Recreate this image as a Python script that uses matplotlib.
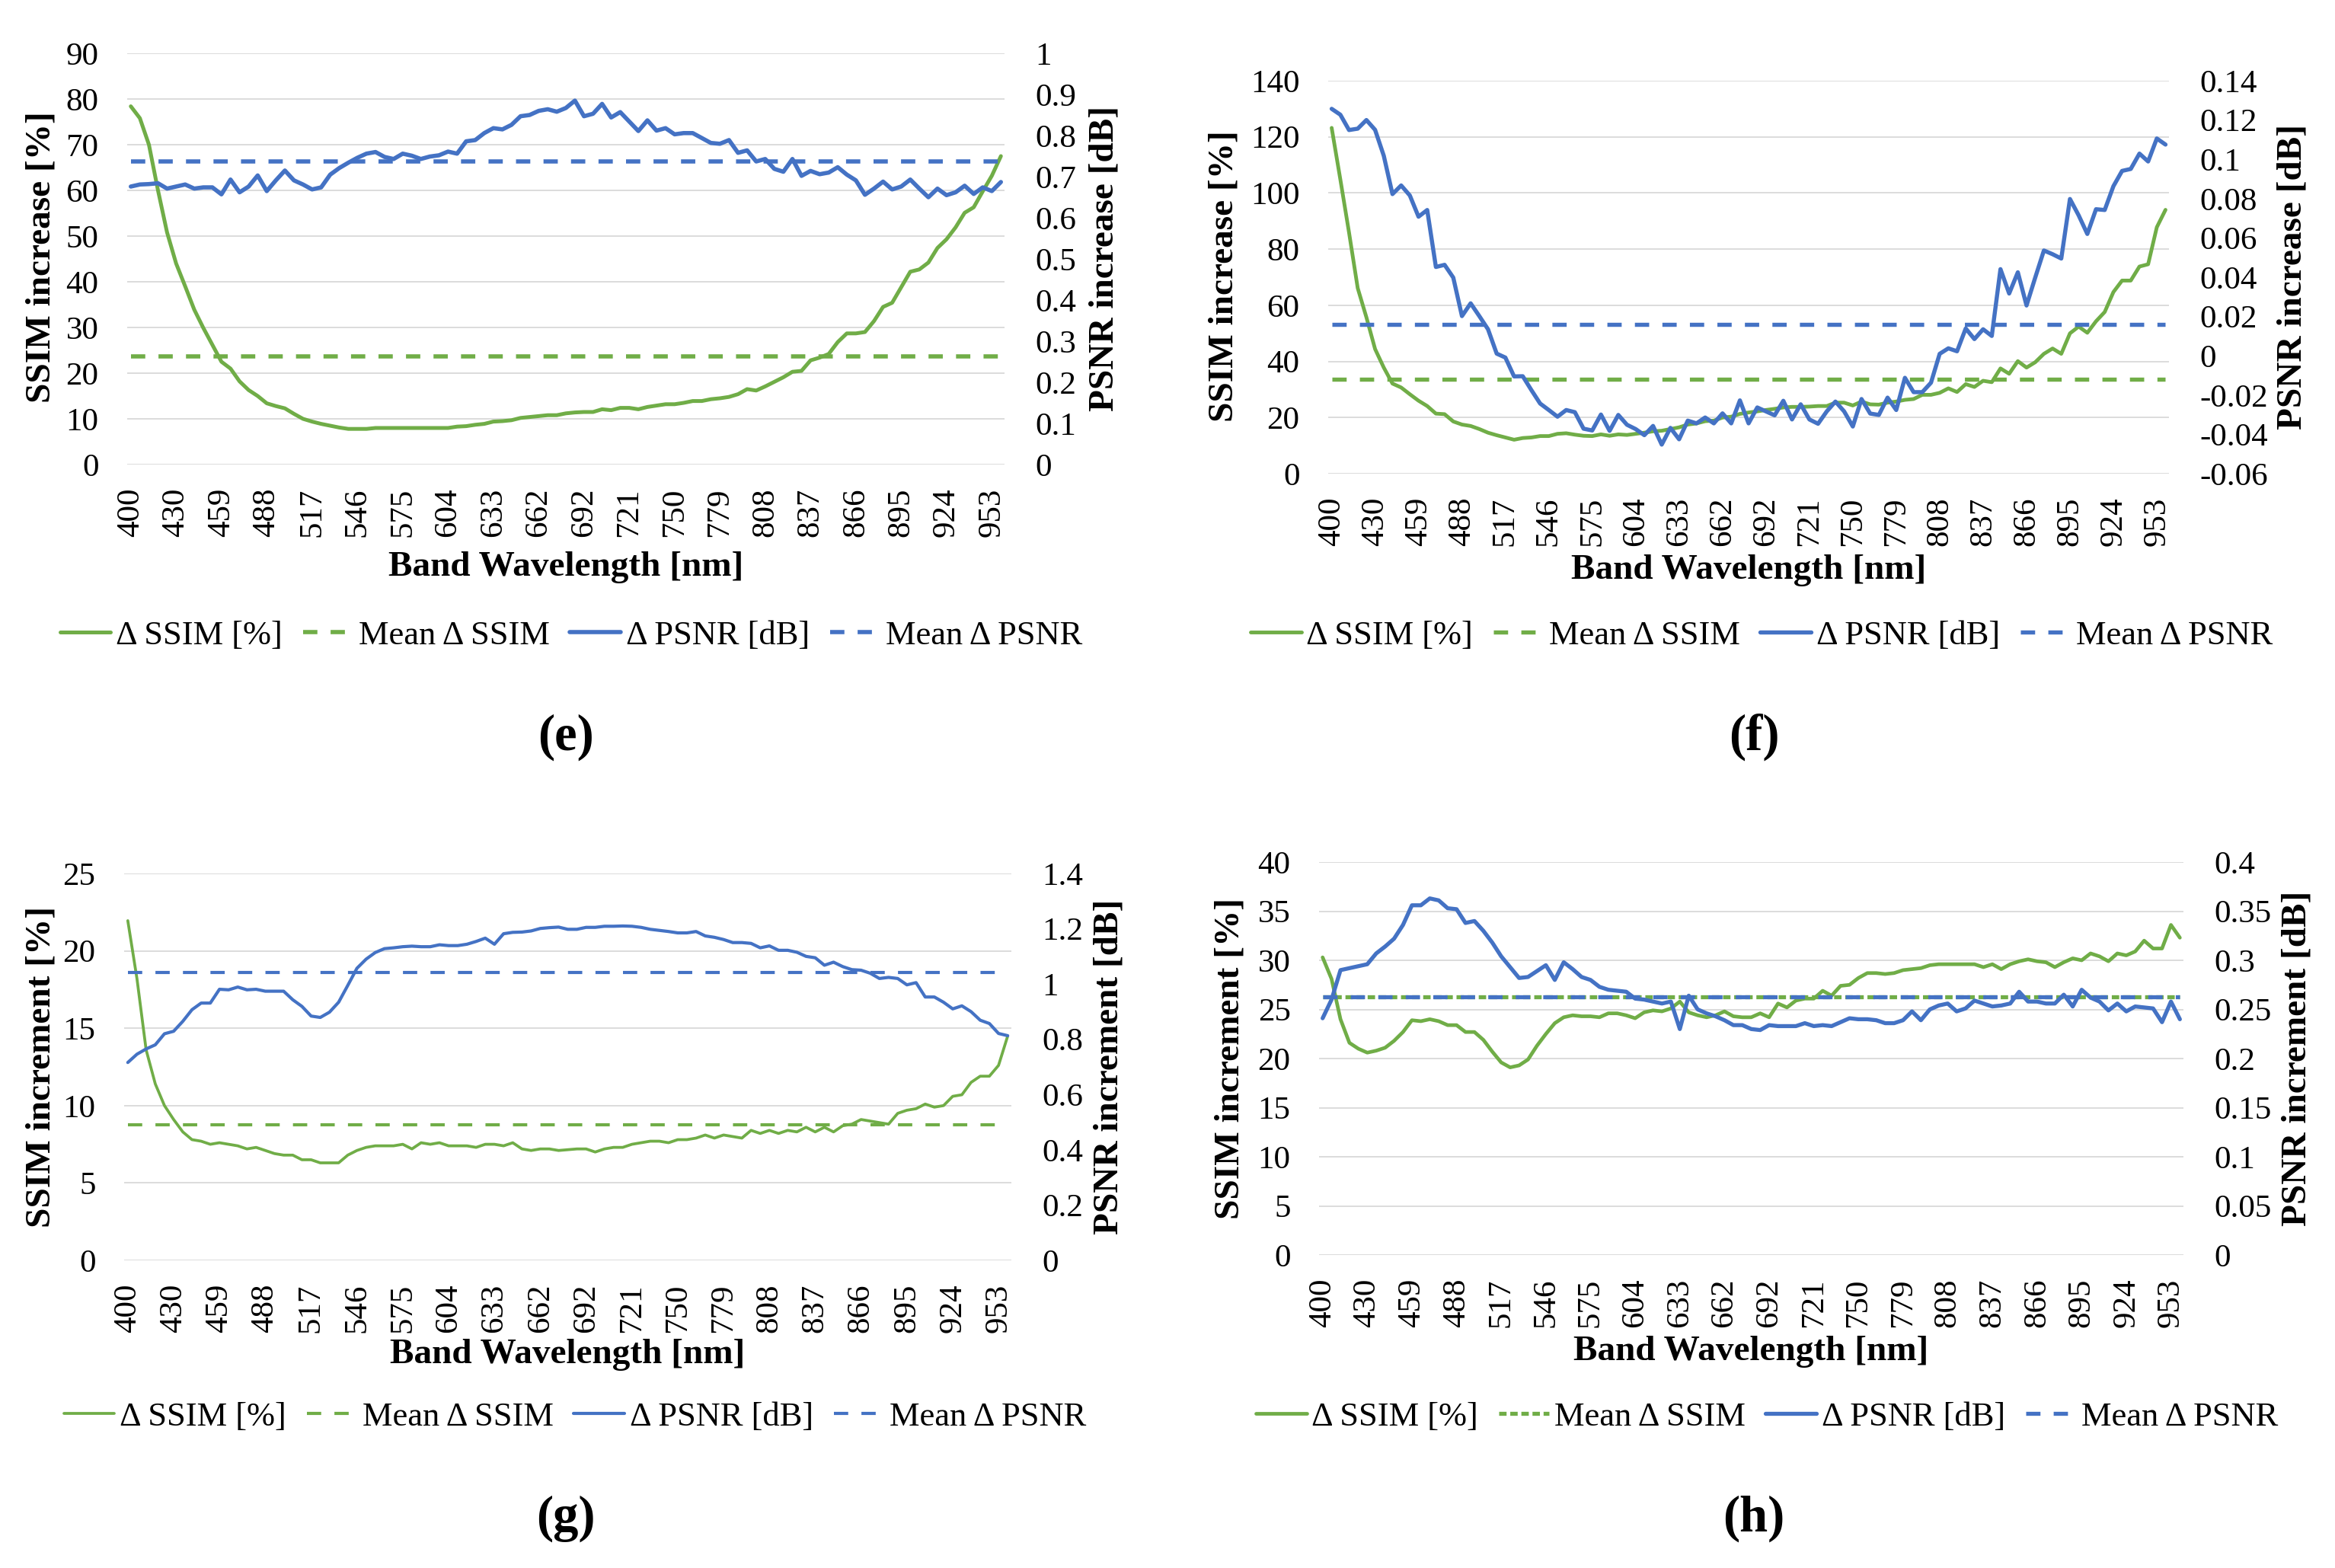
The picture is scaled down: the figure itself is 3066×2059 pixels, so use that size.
import numpy as np
import matplotlib
matplotlib.use("Agg")
import matplotlib.pyplot as plt
from matplotlib.ticker import FuncFormatter

plt.rcParams['font.family'] = ['Liberation Serif', 'DejaVu Serif']

GREEN = '#70AD47'
BLUE = '#4472C4'
GRID = '#D9D9D9'

# band labels shown on the category axis (every 5th band)
wl_labels = ["400", "430", "459", "488", "517", "546", "575", "604", "633", "662",
             "692", "721", "750", "779", "808", "837", "866", "895", "924", "953"]

# ---- panel (e) ----
ssim_e = [78.4, 75.8, 70.0, 60.0, 50.8, 44.0, 39.0, 33.9, 29.9, 26.2,
          22.5, 21.0, 18.2, 16.3, 15.0, 13.4, 12.8, 12.3, 11.1, 10.0,
          9.4, 8.9, 8.5, 8.1, 7.8, 7.8, 7.8, 8.0, 8.0, 8.0,
          8.0, 8.0, 8.0, 8.0, 8.0, 8.0, 8.3, 8.4, 8.7, 8.9,
          9.4, 9.5, 9.7, 10.2, 10.4, 10.6, 10.8, 10.8, 11.2, 11.4,
          11.5, 11.5, 12.1, 11.9, 12.4, 12.4, 12.1, 12.6, 12.9, 13.2,
          13.2, 13.5, 13.9, 13.9, 14.3, 14.5, 14.8, 15.4, 16.5, 16.2,
          17.1, 18.1, 19.1, 20.3, 20.5, 22.8, 23.4, 24.2, 26.8, 28.7,
          28.7, 29.0, 31.4, 34.5, 35.4, 38.8, 42.2, 42.7, 44.2, 47.4,
          49.3, 51.9, 55.1, 56.3, 59.8, 63.2, 67.5]
psnr_e = [0.676, 0.681, 0.682, 0.684, 0.671, 0.676, 0.681, 0.671, 0.674, 0.674,
          0.657, 0.693, 0.662, 0.676, 0.703, 0.665, 0.691, 0.715, 0.691, 0.681,
          0.669, 0.674, 0.705, 0.721, 0.734, 0.746, 0.756, 0.760, 0.748, 0.743,
          0.756, 0.751, 0.743, 0.749, 0.752, 0.761, 0.756, 0.786, 0.789, 0.806,
          0.818, 0.815, 0.826, 0.847, 0.850, 0.860, 0.864, 0.858, 0.867, 0.885,
          0.847, 0.853, 0.877, 0.844, 0.857, 0.834, 0.811, 0.837, 0.812, 0.818,
          0.803, 0.806, 0.806, 0.794, 0.782, 0.780, 0.789, 0.758, 0.764, 0.737,
          0.743, 0.719, 0.712, 0.743, 0.702, 0.714, 0.706, 0.710, 0.723, 0.705,
          0.691, 0.656, 0.671, 0.688, 0.669, 0.676, 0.693, 0.671, 0.650, 0.671,
          0.655, 0.662, 0.678, 0.658, 0.674, 0.665, 0.687]
mean_ssim_e = 23.7
mean_psnr_e = 0.737

# ---- panel (f) ----
ssim_f = [123.2, 104.8, 85.9, 66.1, 55.7, 44.4, 37.8, 32.1, 30.7, 28.3,
          26.0, 24.1, 21.4, 21.2, 18.6, 17.5, 17.0, 15.9, 14.6, 13.7,
          12.9, 12.1, 12.7, 12.9, 13.4, 13.4, 14.2, 14.4, 13.9, 13.5,
          13.4, 14.0, 13.5, 14.0, 13.8, 14.2, 14.6, 15.1, 15.3, 15.9,
          16.5, 17.5, 17.9, 18.7, 18.9, 20.0, 20.3, 21.3, 21.8, 22.2,
          22.7, 23.1, 23.6, 23.8, 23.8, 23.9, 24.1, 24.1, 25.3, 25.3,
          24.3, 25.7, 24.7, 24.6, 25.3, 25.7, 26.3, 26.6, 28.1, 28.1,
          28.8, 30.4, 29.1, 31.9, 30.9, 33.1, 32.6, 37.5, 35.6, 40.1,
          37.8, 39.7, 42.7, 44.6, 42.7, 50.0, 52.4, 50.2, 54.3, 57.6,
          64.7, 68.8, 68.8, 73.8, 74.6, 87.8, 94.0]
psnr_f = [0.1257, 0.1227, 0.1149, 0.1156, 0.1200, 0.1150, 0.1018, 0.0823, 0.0867, 0.0816,
          0.0708, 0.0742, 0.0452, 0.0463, 0.0398, 0.0202, 0.0267, 0.0202, 0.0135, 0.0011,
          -0.0009, -0.0105, -0.0104, -0.0175, -0.0243, -0.0276, -0.0310, -0.0276, -0.0287, -0.0371,
          -0.0380, -0.0299, -0.0382, -0.0301, -0.0351, -0.0373, -0.0404, -0.0357, -0.0452, -0.0367,
          -0.0425, -0.0330, -0.0344, -0.0314, -0.0344, -0.0293, -0.0344, -0.0227, -0.0344, -0.0263,
          -0.0283, -0.0303, -0.0229, -0.0324, -0.0247, -0.0324, -0.0346, -0.0283, -0.0233, -0.0283,
          -0.0360, -0.0220, -0.0294, -0.0301, -0.0213, -0.0276, -0.0112, -0.0185, -0.0185, -0.0137,
          0.0010, 0.0038, 0.0023, 0.0139, 0.0085, 0.0135, 0.0101, 0.0441, 0.0317, 0.0425,
          0.0256, 0.0398, 0.0536, 0.0517, 0.0495, 0.0798, 0.0715, 0.0620, 0.0746, 0.0742,
          0.0863, 0.0941, 0.0951, 0.1029, 0.0989, 0.1106, 0.1075]
mean_ssim_f = 33.7
mean_psnr_f = 0.0161

# ---- panel (g) ----
ssim_g = [21.95, 18.2, 13.6, 11.4, 10.0, 9.1, 8.3, 7.8, 7.7, 7.5,
          7.6, 7.5, 7.4, 7.2, 7.3, 7.1, 6.9, 6.8, 6.8, 6.5,
          6.5, 6.3, 6.3, 6.3, 6.8, 7.1, 7.3, 7.4, 7.4, 7.4,
          7.5, 7.2, 7.6, 7.5, 7.6, 7.4, 7.4, 7.4, 7.3, 7.5,
          7.5, 7.4, 7.6, 7.2, 7.1, 7.2, 7.2, 7.1, 7.15, 7.2,
          7.2, 7.0, 7.2, 7.3, 7.3, 7.5, 7.6, 7.7, 7.7, 7.6,
          7.8, 7.8, 7.9, 8.1, 7.9, 8.1, 8.0, 7.9, 8.4, 8.2,
          8.4, 8.2, 8.4, 8.3, 8.6, 8.3, 8.6, 8.3, 8.7, 8.8,
          9.1, 9.0, 8.9, 8.8, 9.5, 9.7, 9.8, 10.1, 9.9, 10.0,
          10.6, 10.7, 11.5, 11.9, 11.9, 12.6, 14.5]
psnr_g = [0.716, 0.746, 0.765, 0.780, 0.820, 0.829, 0.865, 0.907, 0.931, 0.931,
          0.981, 0.979, 0.989, 0.979, 0.981, 0.974, 0.974, 0.974, 0.943, 0.919,
          0.884, 0.879, 0.898, 0.934, 0.995, 1.057, 1.090, 1.114, 1.128, 1.131,
          1.135, 1.137, 1.135, 1.135, 1.142, 1.139, 1.139, 1.144, 1.154, 1.166,
          1.144, 1.182, 1.187, 1.188, 1.192, 1.201, 1.204, 1.206, 1.198, 1.198,
          1.205, 1.205, 1.209, 1.209, 1.210, 1.209, 1.205, 1.198, 1.194, 1.190,
          1.185, 1.185, 1.190, 1.174, 1.169, 1.161, 1.150, 1.150, 1.147, 1.131,
          1.138, 1.122, 1.122, 1.115, 1.100, 1.095, 1.068, 1.079, 1.063, 1.052,
          1.050, 1.039, 1.020, 1.024, 1.020, 0.997, 1.005, 0.953, 0.953, 0.934,
          0.910, 0.921, 0.900, 0.869, 0.857, 0.821, 0.813]
mean_ssim_g = 8.76
mean_psnr_g = 1.042

# ---- panel (h) ----
ssim_h = [30.3, 28.1, 24.0, 21.6, 21.0, 20.6, 20.8, 21.1, 21.8, 22.7,
          23.9, 23.8, 24.0, 23.8, 23.4, 23.4, 22.7, 22.7, 21.9, 20.7,
          19.6, 19.1, 19.3, 19.9, 21.3, 22.5, 23.6, 24.2, 24.4, 24.3,
          24.3, 24.2, 24.6, 24.6, 24.4, 24.1, 24.7, 24.9, 24.8, 25.1,
          25.8, 24.7, 24.4, 24.2, 24.4, 24.8, 24.3, 24.2, 24.2, 24.6,
          24.2, 25.6, 25.2, 25.9, 26.1, 26.1, 26.9, 26.4, 27.4, 27.5,
          28.2, 28.7, 28.7, 28.6, 28.7, 29.0, 29.1, 29.2, 29.5, 29.6,
          29.6, 29.6, 29.6, 29.6, 29.3, 29.6, 29.1, 29.6, 29.9, 30.1,
          29.9, 29.8, 29.3, 29.8, 30.2, 30.0, 30.7, 30.4, 29.9, 30.7,
          30.5, 30.9, 32.0, 31.2, 31.2, 33.6, 32.3]
psnr_h = [0.241, 0.260, 0.290, 0.292, 0.294, 0.296, 0.307, 0.314, 0.322, 0.336,
          0.356, 0.356, 0.363, 0.361, 0.353, 0.352, 0.338, 0.340, 0.330, 0.318,
          0.304, 0.293, 0.282, 0.283, 0.289, 0.295, 0.280, 0.298, 0.291, 0.283,
          0.280, 0.273, 0.270, 0.269, 0.268, 0.261, 0.260, 0.258, 0.256, 0.258,
          0.230, 0.264, 0.250, 0.246, 0.243, 0.239, 0.234, 0.234, 0.230, 0.229,
          0.234, 0.233, 0.233, 0.233, 0.236, 0.233, 0.234, 0.233, 0.237, 0.241,
          0.240, 0.240, 0.239, 0.236, 0.236, 0.239, 0.248, 0.239, 0.250, 0.254,
          0.256, 0.248, 0.251, 0.259, 0.256, 0.253, 0.254, 0.256, 0.268, 0.258,
          0.258, 0.256, 0.256, 0.265, 0.253, 0.270, 0.262, 0.258, 0.249, 0.256,
          0.248, 0.253, 0.252, 0.251, 0.237, 0.258, 0.240]
mean_ssim_h = 26.3
mean_psnr_h = 0.263

W, H = 3066, 2059
fig = plt.figure(figsize=(W / 100, H / 100), dpi=100)

fmt = FuncFormatter(lambda v, p: f"{round(v, 4):g}")


def px_rect(x0, x1, y0, y1):
    # pixel box (top-left origin) -> figure fraction rect
    return [x0 / W, 1 - y1 / H, (x1 - x0) / W, (y1 - y0) / H]


def panel(rect, ssim, psnr, m_ssim, m_psnr, lticks, rticks, lname, rname,
          caption, lpos, rpos, xlab_y, leg_pos, cap_pos, lw=3.0, green_dash=(13.5, 12.5)):
    n = len(ssim)
    x = np.arange(n)
    ax = fig.add_axes(rect)
    ax2 = ax.twinx()
    blue_dash = (13.5 / lw, 12.5 / lw)
    gdash = (green_dash[0] / lw, green_dash[1] / lw)

    ax.plot(x, ssim, color=GREEN, lw=lw * 0.9, label='\u0394 SSIM [%]', solid_capstyle='round')
    ax.plot(x, [m_ssim] * n, color=GREEN, lw=lw, dashes=gdash, label='Mean \u0394 SSIM')
    ax2.plot(x, psnr, color=BLUE, lw=lw, label='\u0394 PSNR [dB]', solid_capstyle='round')
    ax2.plot(x, [m_psnr] * n, color=BLUE, lw=lw, dashes=blue_dash, label='Mean \u0394 PSNR')

    ax.set_xlim(-0.4, n - 0.6)
    ax.set_ylim(lticks[0], lticks[-1])
    ax2.set_ylim(rticks[0], rticks[-1])
    ax.set_yticks(lticks)
    ax2.set_yticks(rticks)
    ax2.yaxis.set_major_formatter(fmt)
    ax.set_xticks(np.arange(0, n, 5))
    ax.set_xticklabels(wl_labels, rotation=90)

    ax.grid(axis='y', color=GRID, lw=1.3)
    ax.set_axisbelow(True)
    for a in (ax, ax2):
        for s in a.spines.values():
            s.set_visible(False)
    ax.tick_params(axis='y', length=0, pad=27, labelsize=31)
    ax.tick_params(axis='x', length=0, pad=22, labelsize=31)
    ax2.tick_params(axis='y', length=0, pad=29, labelsize=31)

    fig.text(lpos[0] / W, 1 - lpos[1] / H, lname, rotation=90, ha='center', va='center',
             fontsize=34, fontweight='bold')
    fig.text(rpos[0] / W, 1 - rpos[1] / H, rname, rotation=90, ha='center', va='center',
             fontsize=34, fontweight='bold')
    fig.text((rect[0] + rect[2] / 2), 1 - xlab_y / H, 'Band Wavelength [nm]',
             ha='center', va='center', fontsize=34, fontweight='bold')

    h1, l1 = ax.get_legend_handles_labels()
    h2, l2 = ax2.get_legend_handles_labels()
    fig.legend(h1 + h2, l1 + l2, loc='center', bbox_to_anchor=(leg_pos[0] / W, 1 - leg_pos[1] / H),
               ncol=4, frameon=False, fontsize=32, handlelength=1.5, handletextpad=0.15,
               columnspacing=0.6)
    fig.text(cap_pos[0] / W, 1 - cap_pos[1] / H, caption, ha='center', va='center',
             fontsize=48, fontweight='bold')


panel(px_rect(167, 1319, 70, 610), ssim_e, psnr_e, mean_ssim_e, mean_psnr_e,
      np.arange(0, 91, 10), np.round(np.arange(0, 1.01, 0.1), 2),
      'SSIM increase [%]', 'PSNR increase [dB]', '(e)',
      (55, 338), (1451, 340), 745, (750, 835), (743, 968), lw=4.0)

panel(px_rect(1744, 2848, 106, 622), ssim_f, psnr_f, mean_ssim_f, mean_psnr_f,
      np.arange(0, 141, 20), np.round(np.arange(-0.06, 0.141, 0.02), 2),
      'SSIM increase [%]', 'PSNR increase [dB]', '(f)',
      (1607, 363), (3011, 363), 749, (2313, 835), (2303, 968), lw=3.9)

panel(px_rect(163, 1328, 1147, 1655), ssim_g, psnr_g, mean_ssim_g, mean_psnr_g,
      np.arange(0, 26, 5), np.round(np.arange(0, 1.41, 0.2), 2),
      'SSIM increment [%]', 'PSNR increment [dB]', '(g)',
      (55, 1401), (1456, 1401), 1779, (755, 1861), (743, 1994), lw=3.0)

panel(px_rect(1732, 2867, 1132, 1648), ssim_h, psnr_h, mean_ssim_h, mean_psnr_h,
      np.arange(0, 41, 5), np.round(np.arange(0, 0.401, 0.05), 2),
      'SSIM increment [%]', 'PSNR increment [dB]', '(h)',
      (1615, 1390), (3017, 1390), 1775, (2320, 1861), (2303, 1994), lw=3.8,
      green_dash=(7.0, 3.5))

fig.savefig('out.png', dpi=100, facecolor='white')
